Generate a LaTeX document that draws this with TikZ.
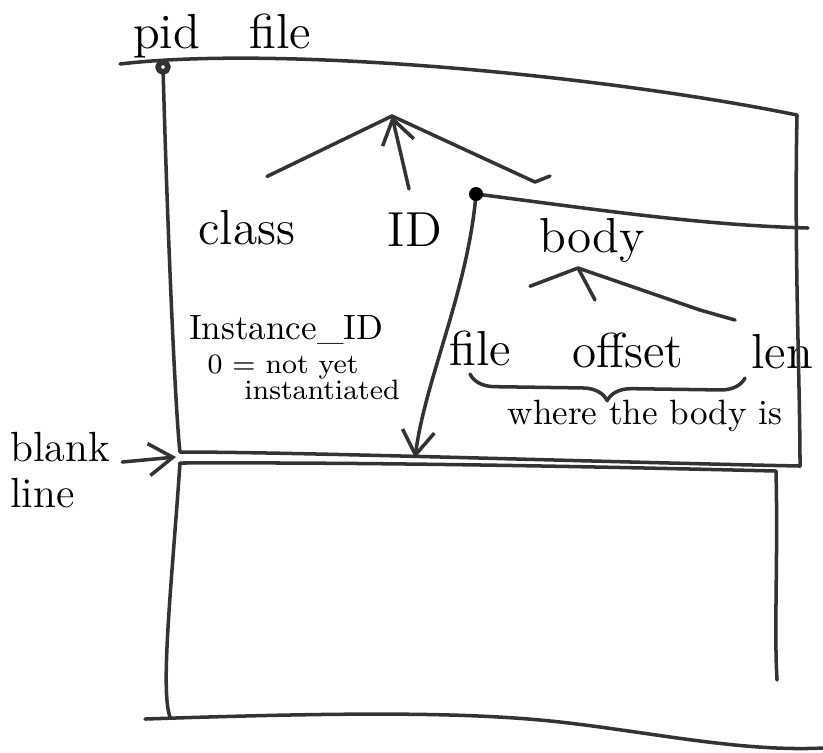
\documentclass[tikz,border=0pt]{standalone}
\usetikzlibrary{arrows.meta, positioning, decorations.pathreplacing, calc}

\begin{document}
\begin{tikzpicture}[
    x=0.1mm, y=-0.1mm,
    >={Straight Barb[length=2.4mm, width=3.2mm]},
    pen/.style={line width=1pt, line cap=round, line join=round, black!80},
    lbl/.style={font=\fontsize{14}{16}\selectfont, inner sep=1pt},
    note/.style={font=\fontsize{10}{12}\selectfont, inner sep=1pt},
    small/.style={font=\fontsize{8}{9}\selectfont, inner sep=1pt}
  ]
  \useasboundingbox (0,0) rectangle (823,752);

  % texts
  \node[lbl] (pid) at (222,36) {pid\quad file};
  \node[lbl] (class) at (247,228) {class};
  \node[lbl] (id) at (415,230) {ID};
  \node[lbl] (body) at (592,240) {body};
  \node[lbl] (file) at (480,348) {file};
  \node[lbl] (offset) at (628,350) {offset};
  \node[lbl] (len) at (782,352) {len};
  \node[note] (where) at (645,416) {where the body is};
  \node[note] (inst) at (286,330) {Instance\_ID};
  \node[small] (notyet) at (283,367) {0 = not yet};
  \node[small] (instd) at (322,390) {instantiated};
  \node[note, font=\fontsize{12}{13}\selectfont, align=left, anchor=west]
    (blank) at (6,470) {blank\\line};

  % page outline
  \coordinate (pin) at (163,67);
  \coordinate (tr) at (797,115);
  \coordinate (bl) at (180,452);
  \coordinate (br) at (800,466);
  \draw[pen] (120,64) .. controls (280,45) and (600,75) .. (tr);
  \draw[pen] (pin) .. controls (168,250) and (176,420) .. (bl)
    .. controls (300,452) and (600,462) .. (br);
  \draw[pen] (tr) .. controls (794,250) and (800,380) .. (br);
  \draw[pen, line width=1.6pt, fill=white] (pin) circle (5);

  % second record
  \coordinate (bl2) at (180,463);
  \coordinate (tr2) at (776,471);
  \draw[pen] (bl2) .. controls (400,462) and (650,468) .. (tr2)
    .. controls (778,560) and (774,630) .. (777,680);
  \draw[pen] (bl2) .. controls (172,580) and (160,690) .. (170,717);
  \draw[pen] (145,719) .. controls (350,712) and (470,712) .. (560,722)
    .. controls (650,732) and (740,752) .. (823,748);

  % header: class and ID
  \coordinate (hat) at (392,116);
  \draw[pen] (class.north) ++(20,-30) -- (hat) -- (535,182) -- (550,176);
  \draw[pen, ->] (id.north) ++(-6,-20) -- (hat);

  % body pointer
  \coordinate (dot) at (476,194);
  \coordinate (hit) at (415,458);
  \draw[pen] (dot) .. controls (600,210) and (700,225) .. (808,228);
  \draw[pen, ->] (dot) .. controls (468,290) and (425,380) .. (hit);
  \fill[black] (dot) circle (7);

  % body parts
  \coordinate (hat2) at (578,268);
  \draw[pen] (file.north) ++(50,-40) -- (hat2) -- (595,300);
  \draw[pen] (hat2) -- (700,310) -- (735,320);
  \draw[pen, decorate, decoration={brace, mirror, amplitude=7}]
    (470,374) -- (745,378);

  % blank line
  \coordinate (gap) at (176,457);
  \draw[pen, ->] ([shift={(8,-8)}]blank.east) -- (gap);
\end{tikzpicture}
\end{document}
